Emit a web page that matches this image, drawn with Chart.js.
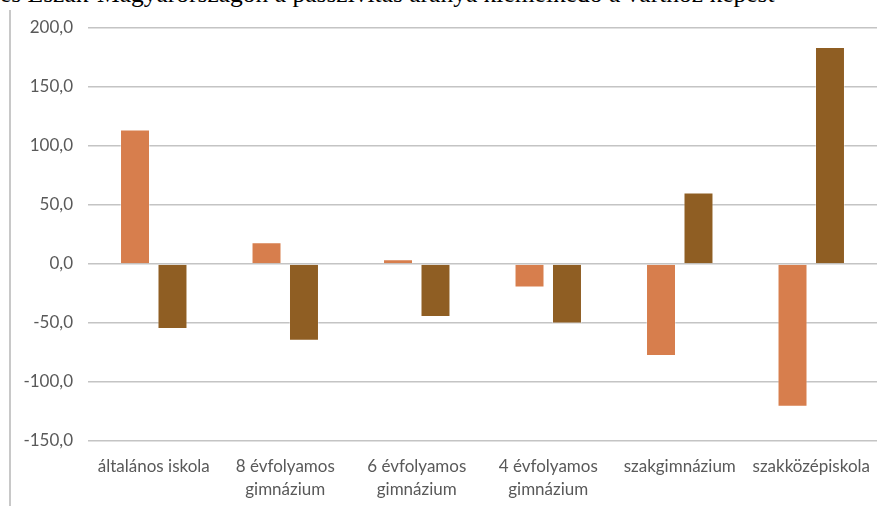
<!DOCTYPE html>
<html>
<head>
<meta charset="utf-8">
<script src="https://cdn.jsdelivr.net/npm/chart.js@4/dist/chart.umd.min.js"></script>
<style>
    html, body { margin: 0; padding: 0; background: #fff; overflow: hidden; }
    #wrap { position: relative; width: 889px; height: 506px; }
    #title {
        position: absolute; left: 0; top: -21px; white-space: nowrap;
        font-family: 'Liberation Serif', serif; font-size: 25.5px; color: #000;
    }
    #frame { position: absolute; left: 9px; top: 10px; width: 0; height: 496px; border-left: 2px solid #C8C8C8; }
    #chart { position: absolute; left: 0; top: 0; }
</style>
</head>
<body>
<div id="wrap">
    <div id="title">és Észak-Magyarországon a passzivitás aránya kiemelkedő a várthoz képest</div>
    <div id="frame"></div>
    <canvas id="chart" width="889" height="506"></canvas>
</div>
<script>
// Chart data
const categories = [
    'általános iskola',
    ['8 évfolyamos', 'gimnázium'],
    ['6 évfolyamos', 'gimnázium'],
    ['4 évfolyamos', 'gimnázium'],
    'szakgimnázium',
    'szakközépiskola'
];
const seriesA = [114, 18.5, 4, -20, -78, -121];
const seriesB = [-55, -65, -45, -50.5, 60.5, 184];
const yTicks = [-150, -100, -50, 0, 50, 100, 150, 200];

const ctx = document.getElementById('chart').getContext('2d');
new Chart(ctx, {
    type: 'bar',
    data: {
        labels: categories,
        datasets: [
            {
                label: 'A',
                data: seriesA,
                backgroundColor: '#D77E4D',
                borderColor: 'rgba(255,255,255,0.35)',
                borderWidth: 1,
                categoryPercentage: 0.57,
                barPercentage: 0.8
            },
            {
                label: 'B',
                data: seriesB,
                backgroundColor: '#8F5E23',
                borderColor: 'rgba(255,255,255,0.35)',
                borderWidth: 1,
                categoryPercentage: 0.57,
                barPercentage: 0.8
            }
        ]
    },
    options: {
        responsive: false,
        animation: false,
        layout: { padding: { top: 28, right: 12, left: 0, bottom: 0 } },
        plugins: {
            legend: { display: false },
            tooltip: { enabled: false }
        },
        scales: {
            x: {
                grid: { display: false, drawTicks: false },
                border: { display: false },
                ticks: {
                    color: '#595959',
                    padding: 14,
                    maxRotation: 0,
                    autoSkip: false,
                    font: { family: 'Lato', size: 17, lineHeight: 1.35 }
                },
                afterFit: s => { s.height = 65; }
            },
            y: {
                min: -150,
                max: 200,
                afterBuildTicks: s => { s.ticks = yTicks.map(v => ({ value: v })); },
                grid: { color: '#C4C4C4', lineWidth: 1.5, drawTicks: false },
                border: { display: false },
                ticks: {
                    color: '#595959',
                    padding: 15,
                    font: { family: 'Lato', size: 17 },
                    callback: v => v.toFixed(1).replace('.', ',')
                },
                afterFit: s => { s.width = 88; }
            }
        }
    }
});
</script>
</body>
</html>
